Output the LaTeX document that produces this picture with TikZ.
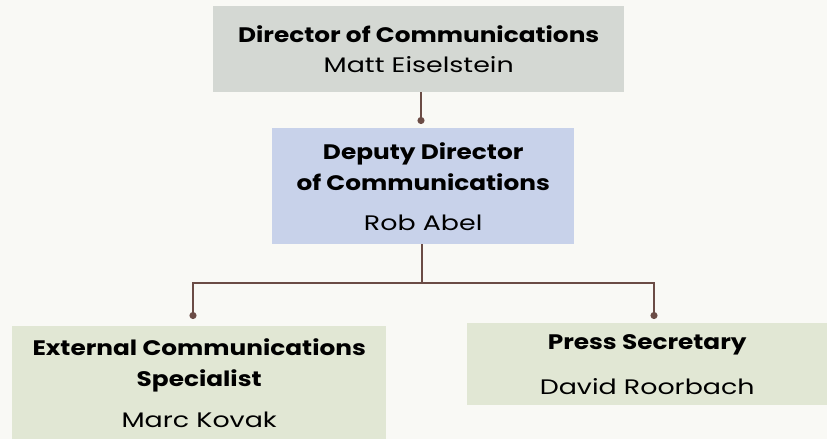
\documentclass[tikz,border=0pt]{standalone}
\usepackage{fontspec}
\setmainfont{Poppins}
\newfontfamily\headfont{Poppins}[FakeStretch=1.18]
\newfontfamily\namefont{Poppins}[FakeStretch=1.28]
\usetikzlibrary{arrows.meta}
\definecolor{pagebg}{HTML}{F9F9F5}
\definecolor{topfill}{HTML}{D4D8D3}
\definecolor{midfill}{HTML}{C8D2EA}
\definecolor{lowfill}{HTML}{E1E7D4}
\definecolor{linkcol}{HTML}{6B4C45}
\newcommand{\hd}[1]{{\headfont\bfseries #1}}
\newcommand{\nm}[1]{{\namefont #1}}
\begin{document}
\begin{tikzpicture}[x=1pt,y=-1pt,
  box/.style={anchor=north west, inner sep=0pt, align=center,
    font=\fontsize{21}{31}\selectfont},
  link/.style={draw=linkcol, line width=1.6pt},
  dot/.style={-{Circle[length=7pt,width=7pt]}}]
  \fill[pagebg] (0,0) rectangle (827,439);
  \useasboundingbox (0,0) rectangle (827,439);
  \node[box, fill=topfill, minimum width=411pt, minimum height=86pt] (dir) at (213,6)
    {\hd{Director of Communications}\\[-1pt] \nm{Matt Eiselstein}};
  \node[box, fill=midfill, minimum width=302pt, minimum height=116pt] (dep) at (272,128)
    {\hd{Deputy Director}\\ \hd{of Communications}\\[9pt] \nm{Rob Abel}};
  \node[box, fill=lowfill, minimum width=374pt, minimum height=113pt] (ext) at (12,326)
    {\hd{External Communications}\\ \hd{Specialist}\\[10pt] \nm{Marc Kovak}};
  \node[box, fill=lowfill, minimum width=360pt, minimum height=82pt] (press) at (467,323)
    {\hd{Press Secretary}\\[14pt] \nm{David Roorbach}};
  \coordinate (jn) at (422,283);
  \coordinate (extin) at (193,319);
  \coordinate (pressin) at (654,319);
  \draw[link, dot] (dir.south -| 421,0) -- (421,124);
  \draw[link] (dep.south -| jn) -- (jn);
  \draw[link, dot] (jn) -| (extin);
  \draw[link, dot] (jn) -| (pressin);
\end{tikzpicture}
\end{document}
